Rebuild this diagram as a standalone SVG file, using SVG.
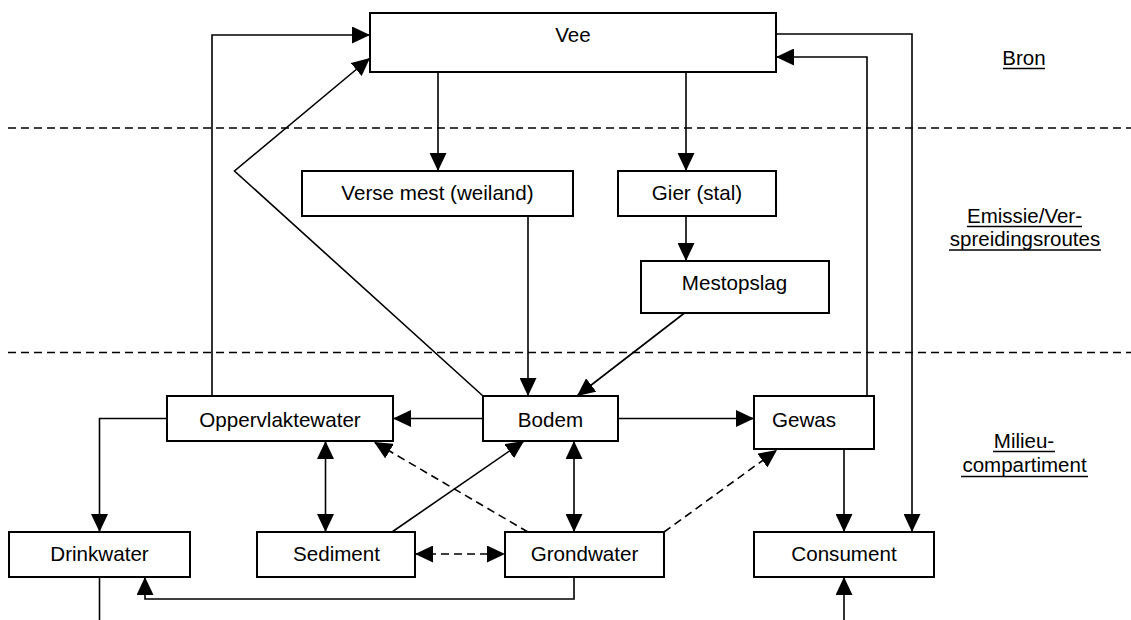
<svg xmlns="http://www.w3.org/2000/svg" width="1131" height="620" viewBox="0 0 1131 620">
<defs>
<style>
.box{fill:#fff;stroke:#000;stroke-width:2}
.lbl{font-family:"Liberation Sans",Arial,sans-serif;font-size:20.6px;fill:#000;text-anchor:middle}
.side{font-family:"Liberation Sans",Arial,sans-serif;font-size:20.5px;fill:#000;text-anchor:middle}
.c{fill:none;stroke:#000;stroke-width:1.6}
.d{fill:none;stroke:#000;stroke-width:1.6;stroke-dasharray:8,5}
.rule{fill:none;stroke:#000;stroke-width:1.6;stroke-dasharray:8,5}
.ul{stroke:#000;stroke-width:1.4}
</style>
<marker id="ah" viewBox="0 0 18 17" refX="18" refY="8.5" markerWidth="18" markerHeight="17" markerUnits="userSpaceOnUse" orient="auto-start-reverse">
<path d="M0,0 L18,8.5 L0,17 z" fill="#000"/>
</marker>
</defs>
<rect width="1131" height="620" fill="#fff"/>

<g id="rules">
<line class="rule" x1="8" y1="128" x2="1131" y2="128"/>
<line class="rule" x1="8" y1="352.5" x2="1131" y2="352.5"/>
</g>

<g id="connectors">
<polyline class="c" points="212,396 212,35 370,35" marker-end="url(#ah)"/>
<polyline class="c" points="483,396 234.5,171 370,58" marker-end="url(#ah)"/>
<line class="c" x1="438" y1="72" x2="438" y2="171" marker-end="url(#ah)"/>
<line class="c" x1="686" y1="72" x2="686" y2="171" marker-end="url(#ah)"/>
<line class="c" x1="686" y1="216" x2="686" y2="261" marker-end="url(#ah)"/>
<line class="c" x1="528" y1="216" x2="528" y2="396" marker-end="url(#ah)"/>
<line class="c" x1="684.5" y1="313" x2="577" y2="396" marker-end="url(#ah)"/>
<line class="c" x1="483" y1="418.5" x2="393" y2="418.5" marker-end="url(#ah)"/>
<line class="c" x1="618" y1="418.5" x2="754" y2="418.5" marker-end="url(#ah)"/>
<polyline class="c" points="867,396 867,57 776,57" marker-end="url(#ah)"/>
<polyline class="c" points="776,34 912,34 912,532" marker-end="url(#ah)"/>
<line class="c" x1="844" y1="449" x2="844" y2="532" marker-end="url(#ah)"/>
<line class="c" x1="844" y1="620" x2="844" y2="577" marker-end="url(#ah)"/>
<polyline class="c" points="167,418.5 99.5,418.5 99.5,532" marker-end="url(#ah)"/>
<line class="c" x1="325.5" y1="441" x2="325.5" y2="532" marker-start="url(#ah)" marker-end="url(#ah)"/>
<line class="c" x1="392" y1="532" x2="524" y2="441" marker-end="url(#ah)"/>
<line class="d" x1="528" y1="532" x2="374" y2="442" marker-end="url(#ah)"/>
<line class="d" x1="415" y1="554" x2="505" y2="554" marker-start="url(#ah)" marker-end="url(#ah)"/>
<line class="c" x1="574" y1="441" x2="574" y2="532" marker-start="url(#ah)" marker-end="url(#ah)"/>
<polyline class="c" points="574,577 574,599 145,599 145,577" marker-end="url(#ah)"/>
<line class="c" x1="99.5" y1="577" x2="99.5" y2="620"/>
<line class="d" x1="664" y1="532" x2="777" y2="450" marker-end="url(#ah)"/>
</g>

<g id="vee"><rect class="box" x="370" y="13" width="406" height="59"/><text class="lbl" x="573" y="42">Vee</text></g>
<g id="verse-mest"><rect class="box" x="302" y="171" width="271" height="45"/><text class="lbl" x="437.5" y="200">Verse mest (weiland)</text></g>
<g id="gier"><rect class="box" x="618" y="171" width="158" height="45"/><text class="lbl" x="697" y="200">Gier (stal)</text></g>
<g id="mestopslag"><rect class="box" x="641" y="261" width="188" height="52"/><text class="lbl" x="734.5" y="290">Mestopslag</text></g>
<g id="oppervlaktewater"><rect class="box" x="167" y="396" width="226" height="45"/><text class="lbl" x="280" y="427">Oppervlaktewater</text></g>
<g id="bodem"><rect class="box" x="483" y="396" width="135" height="45"/><text class="lbl" x="550.5" y="427">Bodem</text></g>
<g id="gewas"><rect class="box" x="754" y="396" width="120" height="53"/><text class="lbl" x="804" y="427">Gewas</text></g>
<g id="drinkwater"><rect class="box" x="9" y="532" width="181" height="45"/><text class="lbl" x="99.5" y="561">Drinkwater</text></g>
<g id="sediment"><rect class="box" x="257" y="532" width="158" height="45"/><text class="lbl" x="336.5" y="561">Sediment</text></g>
<g id="grondwater"><rect class="box" x="505" y="532" width="159" height="45"/><text class="lbl" x="584.5" y="561">Grondwater</text></g>
<g id="consument"><rect class="box" x="754" y="532" width="180" height="45"/><text class="lbl" x="844" y="561">Consument</text></g>

<g id="labels">
<text class="side" x="1024" y="65">Bron</text>
<line class="ul" x1="1003" y1="68.5" x2="1045" y2="68.5"/>
<text class="side" x="1024.5" y="222.5">Emissie/Ver-</text>
<line class="ul" x1="967" y1="226.5" x2="1082" y2="226.5"/>
<text class="side" x="1025" y="245.5">spreidingsroutes</text>
<line class="ul" x1="949" y1="250" x2="1101" y2="250"/>
<text class="side" x="1024" y="448">Milieu-</text>
<line class="ul" x1="993" y1="451.5" x2="1055" y2="451.5"/>
<text class="side" x="1024.5" y="472">compartiment</text>
<line class="ul" x1="961" y1="476.5" x2="1088" y2="476.5"/>
</g>
</svg>
